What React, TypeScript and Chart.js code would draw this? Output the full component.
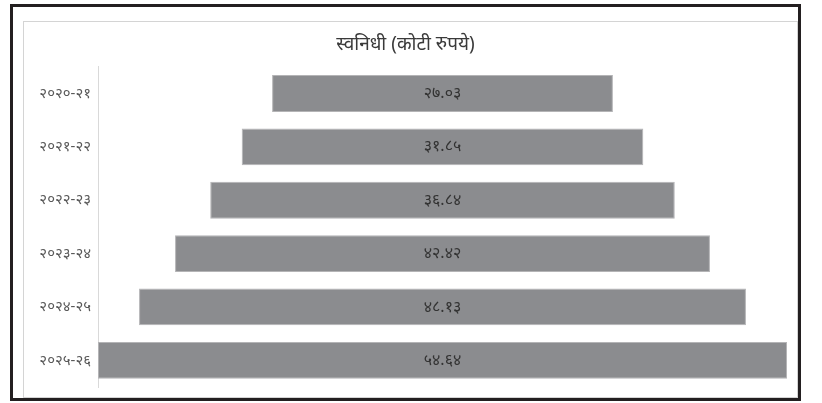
import React, { useEffect, useRef } from "react";
import { Chart, registerables } from "chart.js";

Chart.register(...registerables);

const title = "स्वनिधी (कोटी रुपये)";
const categories = ["२०२०-२१", "२०२१-२२", "२०२२-२३", "२०२३-२४", "२०२४-२५", "२०२५-२६"];
const values = [27.03, 31.85, 36.84, 42.42, 48.13, 54.64];

const devDigits = "०१२३४५६७८९";
const toDev = (v: number) => v.toFixed(2).replace(/[0-9]/g, (d) => devDigits[Number(d)]);

export default function App() {
  const ref = useRef<HTMLCanvasElement>(null);
  useEffect(() => {
    if (!ref.current) return;
    const half = Math.max(...values) / 2;
    const labelPlugin = {
      id: "barLabels",
      afterDatasetsDraw(chart: any) {
        const ctx = chart.ctx;
        const meta = chart.getDatasetMeta(0);
        ctx.save();
        ctx.font = "16px 'Noto Sans', sans-serif";
        ctx.fillStyle = "#333333";
        ctx.textAlign = "center";
        ctx.textBaseline = "middle";
        meta.data.forEach((el: any, i: number) => {
          const cx = (el.x + el.base) / 2;
          ctx.fillText(toDev(values[i]), cx, el.y);
        });
        ctx.restore();
      },
    };
    const chart = new Chart(ref.current, {
      type: "bar",
      data: {
        labels: categories,
        datasets: [
          {
            data: values.map((v) => [-v / 2, v / 2]) as any,
            backgroundColor: "#8b8c8f",
            borderColor: "#b4b4b6",
            borderWidth: 1,
            borderSkipped: false,
            barPercentage: 0.69,
            categoryPercentage: 1,
          },
        ],
      },
      options: {
        indexAxis: "y",
        animation: false,
        responsive: false,
        maintainAspectRatio: false,
        layout: { padding: { left: 0, right: 9, top: 0, bottom: 10 } },
        plugins: {
          legend: { display: false },
          tooltip: { enabled: false },
          title: {
            display: true,
            text: title,
            color: "#3a3a3a",
            font: { size: 19, family: "'Noto Sans', serif", weight: "normal" },
            padding: { top: 11, bottom: 11 },
          },
        },
        scales: {
          x: { display: false, min: -half, max: half },
          y: {
            grid: { display: false, drawTicks: false },
            border: { display: true, color: "#d9d9d9", width: 1 },
            ticks: {
              color: "#595959",
              padding: 7,
              font: { size: 15, family: "'Noto Sans', sans-serif" },
            },
            afterFit: (s: any) => {
              s.width = 74;
              s.paddingTop = 0;
              s.paddingBottom = 0;
            },
          },
        },
      },
      plugins: [labelPlugin],
    });
    return () => chart.destroy();
  }, []);
  return (
    <div style={{ position: "absolute", left: 0, top: 0, width: 822, height: 403, background: "#fff", overflow: "hidden" }}>
      <div
        style={{
          position: "absolute",
          left: 10,
          top: 4,
          width: 791,
          height: 397,
          border: "3px solid #231f20",
          boxSizing: "border-box",
        }}
      />
      <div
        style={{
          position: "absolute",
          left: 23,
          top: 21,
          width: 775,
          height: 377,
          border: "1px solid #d4d4d4",
          boxSizing: "border-box",
        }}
      />
      <canvas
        ref={ref}
        width={772}
        height={375}
        style={{ position: "absolute", left: 24, top: 22, width: 772, height: 375 }}
      />
    </div>
  );
}
